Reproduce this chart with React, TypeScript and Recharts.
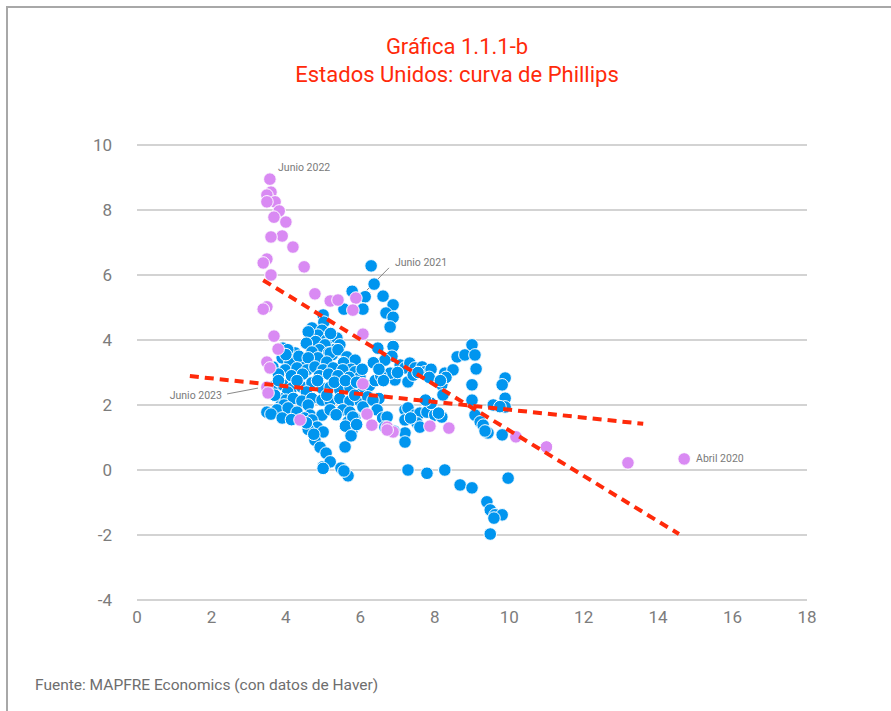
import React from "react";
import {
  ScatterChart,
  Scatter,
  XAxis,
  YAxis,
  CartesianGrid,
  ReferenceLine,
  ReferenceDot,
} from "recharts";

const titleLines = ["Gráfica 1.1.1-b", "Estados Unidos: curva de Phillips"];
const sourceText = "Fuente: MAPFRE Economics (con datos de Haver)";

const xTicks = [0, 2, 4, 6, 8, 10, 12, 14, 16, 18];
const yTicks = [-4, -2, 0, 2, 4, 6, 8, 10];

// Blue: earlier observations (unemployment rate x, inflation y)
const bluePoints = [
  // upper cluster
  { x: 6.29, y: 6.28 }, { x: 6.37, y: 5.72 }, { x: 5.78, y: 5.5 }, { x: 6.13, y: 5.33 },
  { x: 6.61, y: 5.35 }, { x: 6.88, y: 5.08 }, { x: 5.56, y: 4.95 }, { x: 6.07, y: 4.95 },
  { x: 6.69, y: 4.83 }, { x: 6.88, y: 4.7 }, { x: 6.8, y: 4.4 },
  // block A
  { x: 5.0, y: 4.77 }, { x: 5.02, y: 4.55 }, { x: 4.7, y: 4.37 }, { x: 4.97, y: 4.3 },
  { x: 4.65, y: 4.1 }, { x: 4.86, y: 4.15 }, { x: 5.1, y: 4.0 }, { x: 5.37, y: 4.06 },
  { x: 4.6, y: 4.25 }, { x: 5.2, y: 4.2 }, { x: 4.8, y: 3.95 }, { x: 5.45, y: 3.85 },
  { x: 5.3, y: 3.7 }, { x: 4.55, y: 3.9 }, { x: 5.05, y: 3.85 }, { x: 4.9, y: 3.7 },
  { x: 5.25, y: 3.55 }, { x: 5.15, y: 3.6 },
  // block B
  { x: 3.92, y: 3.75 }, { x: 4.25, y: 3.6 }, { x: 4.7, y: 3.63 }, { x: 5.19, y: 3.6 },
  { x: 5.4, y: 3.7 }, { x: 5.64, y: 3.48 }, { x: 5.86, y: 3.38 }, { x: 3.9, y: 3.45 },
  { x: 4.11, y: 3.32 }, { x: 4.43, y: 3.32 }, { x: 4.86, y: 3.45 }, { x: 5.1, y: 3.32 },
  { x: 4.05, y: 3.7 }, { x: 4.35, y: 3.5 }, { x: 4.6, y: 3.45 }, { x: 5.55, y: 3.3 },
  { x: 5.75, y: 3.1 }, { x: 4.0, y: 3.55 },
  // block C
  { x: 3.65, y: 3.17 }, { x: 3.98, y: 3.08 }, { x: 4.3, y: 3.14 }, { x: 4.57, y: 3.08 },
  { x: 4.78, y: 3.17 }, { x: 5.0, y: 3.08 }, { x: 5.27, y: 3.14 }, { x: 5.53, y: 3.08 },
  { x: 5.86, y: 3.02 }, { x: 5.99, y: 2.86 }, { x: 3.8, y: 2.95 }, { x: 4.15, y: 2.9 },
  { x: 4.45, y: 2.95 }, { x: 4.9, y: 2.9 }, { x: 5.15, y: 2.95 }, { x: 5.4, y: 2.9 },
  { x: 5.7, y: 2.85 }, { x: 6.05, y: 3.1 },
  // block D
  { x: 3.65, y: 2.55 }, { x: 3.92, y: 2.62 }, { x: 4.16, y: 2.52 }, { x: 4.43, y: 2.55 },
  { x: 4.7, y: 2.68 }, { x: 4.97, y: 2.52 }, { x: 5.19, y: 2.55 }, { x: 5.45, y: 2.46 },
  { x: 5.72, y: 2.55 }, { x: 6.07, y: 2.46 }, { x: 3.8, y: 2.75 }, { x: 4.05, y: 2.4 },
  { x: 4.3, y: 2.75 }, { x: 4.55, y: 2.4 }, { x: 4.85, y: 2.75 }, { x: 5.3, y: 2.7 },
  { x: 5.6, y: 2.75 }, { x: 5.9, y: 2.7 }, { x: 6.25, y: 2.6 }, { x: 6.4, y: 2.75 },
  // block E
  { x: 3.84, y: 2.2 }, { x: 4.0, y: 2.15 }, { x: 4.2, y: 2.2 }, { x: 4.43, y: 2.12 },
  { x: 4.7, y: 2.2 }, { x: 4.97, y: 2.15 }, { x: 5.19, y: 2.12 }, { x: 5.45, y: 2.2 },
  { x: 5.72, y: 2.12 }, { x: 6.0, y: 2.1 }, { x: 3.7, y: 2.3 }, { x: 4.6, y: 2.0 },
  { x: 5.1, y: 2.3 }, { x: 5.85, y: 2.3 }, { x: 6.2, y: 2.25 }, { x: 6.5, y: 2.2 },
  { x: 3.95, y: 2.0 },
  // block F
  { x: 3.49, y: 1.78 }, { x: 3.76, y: 1.85 }, { x: 4.06, y: 1.91 }, { x: 4.3, y: 1.78 },
  { x: 4.65, y: 1.69 }, { x: 4.97, y: 1.69 }, { x: 5.19, y: 1.85 }, { x: 5.53, y: 1.85 },
  { x: 5.72, y: 1.78 }, { x: 6.07, y: 1.94 }, { x: 6.34, y: 2.15 }, { x: 3.6, y: 1.72 },
  { x: 3.9, y: 1.6 }, { x: 4.15, y: 1.55 }, { x: 4.5, y: 1.6 }, { x: 5.35, y: 1.7 },
  { x: 5.85, y: 1.6 }, { x: 6.45, y: 1.85 }, { x: 6.6, y: 1.6 },
  // block G (lower tail)
  { x: 4.7, y: 1.54 }, { x: 4.84, y: 1.32 }, { x: 5.0, y: 1.17 }, { x: 4.78, y: 0.92 },
  { x: 5.59, y: 0.71 }, { x: 5.78, y: 1.23 }, { x: 5.67, y: 1.48 }, { x: 5.8, y: 1.63 },
  { x: 4.92, y: 0.7 }, { x: 5.08, y: 0.52 }, { x: 5.0, y: 0.1 }, { x: 5.19, y: 0.25 },
  { x: 4.6, y: 1.25 }, { x: 4.75, y: 1.1 }, { x: 5.6, y: 1.35 }, { x: 5.75, y: 1.05 },
  { x: 5.9, y: 1.4 }, { x: 5.48, y: 0.06 }, { x: 5.67, y: -0.18 }, { x: 5.56, y: -0.03 },
  { x: 5.0, y: 0.05 }, { x: 4.55, y: 1.45 },
  // block H
  { x: 6.47, y: 3.75 }, { x: 6.88, y: 3.8 }, { x: 6.72, y: 2.83 }, { x: 6.93, y: 2.77 },
  { x: 6.8, y: 2.98 }, { x: 6.55, y: 2.9 }, { x: 6.62, y: 2.75 }, { x: 7.07, y: 3.23 },
  { x: 7.2, y: 3.14 }, { x: 7.33, y: 3.29 }, { x: 7.47, y: 3.14 }, { x: 7.66, y: 3.17 },
  { x: 7.74, y: 3.02 }, { x: 7.28, y: 2.71 }, { x: 7.42, y: 2.92 }, { x: 6.85, y: 3.5 },
  { x: 6.66, y: 3.38 }, { x: 7.0, y: 3.0 }, { x: 7.55, y: 3.0 }, { x: 7.9, y: 3.1 },
  { x: 6.35, y: 3.3 }, { x: 6.5, y: 3.1 }, { x: 7.85, y: 2.85 },
  // block I
  { x: 8.27, y: 2.98 }, { x: 8.49, y: 3.08 }, { x: 8.19, y: 2.62 }, { x: 8.22, y: 2.31 },
  { x: 8.6, y: 3.48 }, { x: 8.81, y: 3.54 }, { x: 9.0, y: 3.85 }, { x: 9.08, y: 3.54 },
  { x: 9.11, y: 3.11 }, { x: 9.0, y: 2.62 }, { x: 9.0, y: 2.15 }, { x: 8.3, y: 2.85 },
  { x: 8.15, y: 2.75 },
  // block J
  { x: 9.08, y: 1.69 }, { x: 9.22, y: 1.48 }, { x: 9.3, y: 1.38 }, { x: 9.4, y: 1.17 },
  { x: 9.43, y: 1.14 }, { x: 9.81, y: 1.08 }, { x: 9.89, y: 2.83 }, { x: 9.81, y: 2.62 },
  { x: 9.89, y: 2.21 }, { x: 9.89, y: 1.94 }, { x: 9.57, y: 2.0 }, { x: 9.35, y: 1.2 },
  { x: 9.75, y: 1.95 },
  // block K
  { x: 7.2, y: 1.85 }, { x: 7.28, y: 1.91 }, { x: 7.47, y: 1.69 }, { x: 7.6, y: 1.75 },
  { x: 7.79, y: 1.78 }, { x: 8.0, y: 1.69 }, { x: 8.19, y: 1.63 }, { x: 7.52, y: 1.45 },
  { x: 7.6, y: 1.32 }, { x: 7.2, y: 1.54 }, { x: 7.2, y: 1.14 }, { x: 7.2, y: 0.86 },
  { x: 6.72, y: 1.63 }, { x: 6.66, y: 1.32 }, { x: 7.35, y: 1.6 }, { x: 7.9, y: 2.05 },
  { x: 7.75, y: 2.15 }, { x: 6.9, y: 1.2 }, { x: 8.1, y: 1.75 },
  // block L (negative inflation)
  { x: 7.28, y: 0.0 }, { x: 7.79, y: -0.1 }, { x: 8.27, y: 0.0 }, { x: 8.68, y: -0.46 },
  { x: 9.0, y: -0.55 }, { x: 9.4, y: -0.98 }, { x: 9.49, y: -1.23 }, { x: 9.62, y: -1.38 },
  { x: 9.81, y: -1.38 }, { x: 9.49, y: -1.97 }, { x: 9.59, y: -1.48 }, { x: 9.97, y: -0.25 },
];

// Violet: recent observations
const pinkPoints = [
  { x: 3.57, y: 8.95 }, { x: 3.6, y: 8.55 }, { x: 3.49, y: 8.46 }, { x: 3.71, y: 8.25 },
  { x: 3.49, y: 8.25 }, { x: 3.82, y: 7.97 }, { x: 3.68, y: 7.78 }, { x: 4.0, y: 7.63 },
  { x: 3.9, y: 7.2 }, { x: 3.6, y: 7.17 }, { x: 4.19, y: 6.86 }, { x: 3.49, y: 6.49 },
  { x: 3.39, y: 6.37 }, { x: 4.49, y: 6.25 }, { x: 3.6, y: 6.0 }, { x: 3.49, y: 5.02 },
  { x: 3.39, y: 4.95 }, { x: 4.78, y: 5.42 }, { x: 5.19, y: 5.2 }, { x: 5.4, y: 5.23 },
  { x: 5.88, y: 5.29 }, { x: 5.8, y: 4.92 }, { x: 3.68, y: 4.12 }, { x: 6.07, y: 4.18 },
  { x: 3.79, y: 3.72 }, { x: 3.49, y: 3.32 }, { x: 3.57, y: 3.14 }, { x: 3.49, y: 2.55 },
  { x: 3.52, y: 2.37 }, { x: 6.07, y: 2.65 }, { x: 4.38, y: 1.54 }, { x: 6.18, y: 1.72 },
  { x: 6.31, y: 1.38 }, { x: 6.72, y: 1.32 }, { x: 6.88, y: 1.17 }, { x: 6.72, y: 1.23 },
  { x: 7.87, y: 1.35 }, { x: 8.38, y: 1.29 }, { x: 10.18, y: 1.02 }, { x: 11.0, y: 0.71 },
  { x: 13.19, y: 0.22 }, { x: 14.7, y: 0.34 },
];

const trendRecent = [{ x: 3.39, y: 5.84 }, { x: 14.56, y: -1.97 }];
const trendAll = [{ x: 1.42, y: 2.89 }, { x: 13.6, y: 1.42 }];

const annotations = [
  { text: "Junio 2022", x: 3.79, y: 9.32, anchor: "start" },
  { text: "Junio 2021", x: 6.93, y: 6.4, anchor: "start" },
  { text: "Junio 2023", x: 2.28, y: 2.31, anchor: "end" },
  { text: "Abril 2020", x: 15.02, y: 0.37, anchor: "start" },
];
const leaders = [
  [{ x: 6.77, y: 6.22 }, { x: 6.13, y: 5.48 }],
  [{ x: 2.42, y: 2.34 }, { x: 3.25, y: 2.52 }],
];

const BLUE = "#0095EF";
const PINK = "#D98AF3";
const RED = "#FF2A0A";
const FONT = "Roboto, 'Open Sans', sans-serif";

const dot = (color: string) => (props: any) => {
  if (props.cx == null || props.cy == null) return <g />;
  return <circle cx={props.cx} cy={props.cy} r={6.3} fill={color} stroke="#ffffff" strokeWidth={1} />;
};
const noDot = () => <g />;

export default function App() {
  return (
    <div
      style={{
        position: "absolute",
        left: 0,
        top: 0,
        width: 891,
        height: 711,
        background: "#ffffff",
        overflow: "hidden",
        fontFamily: FONT,
      }}
    >
      <div
        style={{
          position: "absolute",
          left: 6,
          top: 6,
          width: 900,
          height: 720,
          borderTop: "2px solid #a8a8a8",
          borderLeft: "2px solid #a8a8a8",
        }}
      />
      <div
        style={{
          position: "absolute",
          left: 0,
          top: 33,
          width: 914,
          textAlign: "center",
          color: RED,
          fontSize: 22,
          lineHeight: "28px",
          fontFamily: FONT,
        }}
      >
        {titleLines.map((t) => (
          <div key={t}>{t}</div>
        ))}
      </div>
      <div style={{ position: "absolute", left: 0, top: 0 }}>
        <ScatterChart
          width={891}
          height={711}
          margin={{ top: 145, right: 84, bottom: 81, left: 77 }}
        >
          <CartesianGrid horizontal vertical={false} stroke="#c4c4c4" strokeWidth={1.3} />
          <XAxis
            type="number"
            dataKey="x"
            domain={[0, 18]}
            ticks={xTicks}
            allowDataOverflow
            axisLine={false}
            tickLine={false}
            tickSize={0}
            tickMargin={11}
            height={30}
            tick={{ fill: "#7c7c7c", fontSize: 17, fontFamily: FONT }}
            interval={0}
          />
          <YAxis
            type="number"
            dataKey="y"
            domain={[-4, 10]}
            ticks={yTicks}
            allowDataOverflow
            axisLine={false}
            tickLine={false}
            tickSize={0}
            tickMargin={25}
            width={60}
            tick={{ fill: "#7c7c7c", fontSize: 17, fontFamily: FONT }}
            interval={0}
          />
          <Scatter data={bluePoints} shape={dot(BLUE)} isAnimationActive={false} />
          <Scatter data={pinkPoints} shape={dot(PINK)} isAnimationActive={false} />
          <Scatter
            data={trendRecent}
            shape={noDot}
            line={{ stroke: RED, strokeWidth: 4, strokeDasharray: "9 6" }}
            isAnimationActive={false}
          />
          <Scatter
            data={trendAll}
            shape={noDot}
            line={{ stroke: RED, strokeWidth: 4, strokeDasharray: "9 6" }}
            isAnimationActive={false}
          />
          {leaders.map((seg, i) => (
            <ReferenceLine
              key={"l" + i}
              segment={seg}
              stroke="#6a6a6a"
              strokeWidth={0.8}
              ifOverflow="visible"
            />
          ))}
          {annotations.map((a) => (
            <ReferenceDot
              key={a.text}
              x={a.x}
              y={a.y}
              r={0}
              ifOverflow="visible"
              shape={(p: any) => (
                <text
                  x={p.cx}
                  y={p.cy}
                  dy="0.35em"
                  textAnchor={a.anchor}
                  fill="#7a7a7a"
                  fontSize={10.5}
                  fontFamily={FONT}
                >
                  {a.text}
                </text>
              )}
            />
          ))}
        </ScatterChart>
      </div>
      <div
        style={{
          position: "absolute",
          left: 35,
          top: 676,
          color: "#6e6e6e",
          fontSize: 15.5,
          fontFamily: FONT,
        }}
      >
        {sourceText}
      </div>
    </div>
  );
}
